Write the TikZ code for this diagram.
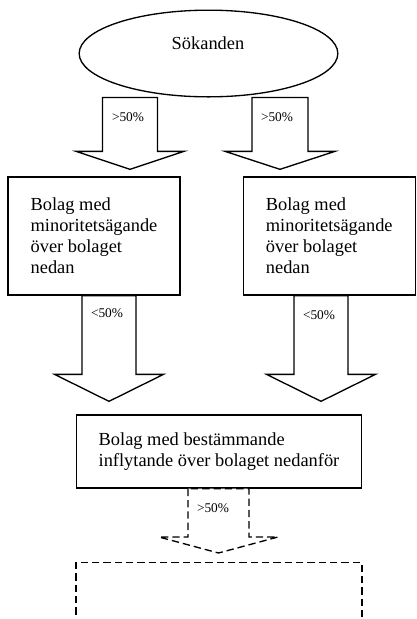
\documentclass[tikz,border=0pt]{standalone}
\usepackage{fontspec}
\setmainfont{Liberation Serif}
\usetikzlibrary{shapes.geometric,calc}

% blockpil: [style]{top}{tip}{shaft half}{head half}{head length}
\newcommand{\blockpil}[6][]{%
  \draw[pil,#1] ($(#2)+(-#4,0)$) -- ($(#3)+(-#4,-#6)$) -- ($(#3)+(-#5,-#6)$) -- (#3)
    -- ($(#3)+(#5,-#6)$) -- ($(#3)+(#4,-#6)$) -- ($(#2)+(#4,0)$) -- cycle;}

\begin{document}
\begin{tikzpicture}[x=0.75pt,y=-0.75pt,line width=1pt]
    \tikzset{
      ruta/.style={draw,rectangle,align=left,inner xsep=16.5pt,font=\fontsize{13.8}{15.8}\selectfont},
      pil/.style={draw,fill=white,line join=miter},
      procent/.style={font=\fontsize{10}{12}\selectfont,inner sep=0pt},
      streckad/.style={dash pattern=on 5.5pt off 3pt}
    }
    \useasboundingbox (0,0) rectangle (417,619);
    \clip (0,0) rectangle (417,619);
    \node[draw,ellipse,minimum width=194pt,minimum height=65pt,inner sep=0pt] (sok) at (208.5,53.5) {};
    \node[font=\fontsize{13.8}{15.8}\selectfont] (sokText) at (208,43) {Sökanden};
    \node[ruta,minimum width=129pt,minimum height=88.5pt] (vanster) at (94,236) {Bolag med\\minoritetsägande\\över bolaget\\nedan};
    \node[ruta,minimum width=129pt,minimum height=88.5pt] (hoger) at (329.25,236) {Bolag med\\minoritetsägande\\över bolaget\\nedan};
    \node[ruta,minimum width=213pt,minimum height=54.75pt] (bestam) at (219,451.5) {Bolag med bestämmande\\inflytande över bolaget nedanför};
    \node[draw,streckad,minimum width=214.5pt,minimum height=90pt,anchor=north] (nasta) at (219,562) {};
    % pilar
    \coordinate (a1) at (sok.south -| 130,0);
    \coordinate (a1s) at ($(vanster.north -| 130,0)+(0,-7)$);
    \coordinate (a2) at (sok.south -| 280,0);
    \coordinate (a2s) at ($(hoger.north -| 280,0)+(0,-7)$);
    \coordinate (b1) at (vanster.south -| 109,0);
    \coordinate (b1s) at ($(bestam.north -| 109,0)+(0,-13)$);
    \coordinate (b2) at (hoger.south -| 321,0);
    \coordinate (b2s) at ($(bestam.north -| 321,0)+(0,-13)$);
    \coordinate (c1) at (bestam.south -| 218.5,0);
    \coordinate (c1s) at ($(nasta.north -| 218.5,0)+(0,-9)$);
    \blockpil{a1}{a1s}{27.5}{54}{18}
    \blockpil{a2}{a2s}{28}{55}{18}
    \blockpil{b1}{b1s}{27}{54.5}{27}
    \blockpil{b2}{b2s}{27}{54.5}{27}
    \blockpil[streckad]{c1}{c1s}{30.5}{59.5}{16}
    \node[procent] (p1) at (128,117) {>50\%};
    \node[procent] (p2) at (277,117) {>50\%};
    \node[procent] (p3) at (107,313) {<50\%};
    \node[procent] (p4) at (319,315) {<50\%};
    \node[procent] (p5) at (213,508) {>50\%};
\end{tikzpicture}
\end{document}
